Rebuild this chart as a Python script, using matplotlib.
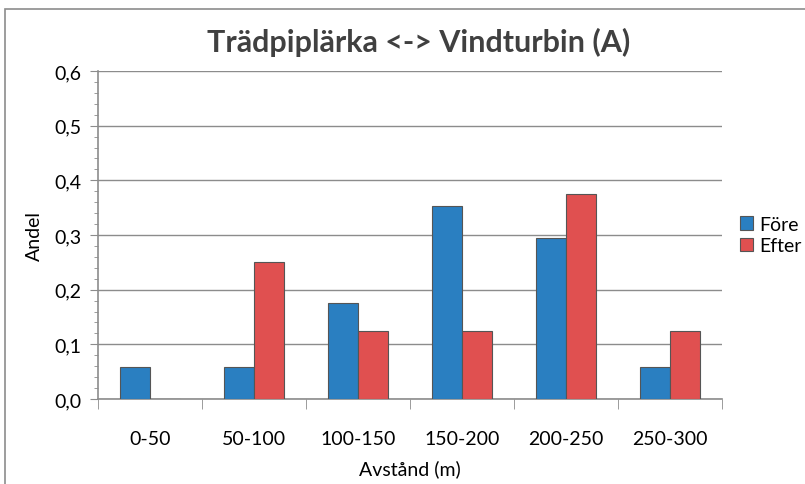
import matplotlib.pyplot as plt
import numpy as np
from matplotlib.patches import Rectangle
from matplotlib.ticker import FuncFormatter, MultipleLocator
# ------------------------------ #

categories = ['0-50', '50-100', '100-150', '150-200', '200-250', '250-300']
fore = [0.0588, 0.0588, 0.1765, 0.3529, 0.2941, 0.0588]
efter = [0.0, 0.25, 0.125, 0.125, 0.375, 0.125]
yTicks = [0.0, 0.1, 0.2, 0.3, 0.4, 0.5, 0.6]
# ------------------------------ #

plt.rcParams['font.family'] = ['Lato', 'DejaVu Sans']

fig = plt.figure(figsize = (8.05, 4.85), dpi = 100)
ax = fig.add_axes([0.1217, 0.1753, 0.7753, 0.6762])

# outer chart border
fig.patches.append(Rectangle((5 / 805, -0.05), 1.1, 1.05 - 10 / 485, transform = fig.transFigure,
	fill = False, edgecolor = '#8c8c8c', linewidth = 1.2))

x = np.arange(len(categories))
w = 1 / 3.5
ax.bar(x - w / 2, fore, width = w, color = '#2a7fc1', edgecolor = '#555555', linewidth = 0.8, label = 'Före', zorder = 3)
ax.bar(x + w / 2, efter, width = w, color = '#e05050', edgecolor = '#555555', linewidth = 0.8, label = 'Efter', zorder = 3)

ax.set_xlim(-0.5, len(categories) - 0.5)
ax.set_ylim(0, 0.6)
ax.set_yticks(yTicks)
ax.yaxis.set_minor_locator(MultipleLocator(0.02))
ax.yaxis.set_major_formatter(FuncFormatter(lambda v, p: f'{v:.1f}'.replace('.', ',')))
ax.grid(axis = 'y', color = '#8c8c8c', linewidth = 1, zorder = 0)

ax.set_xticks(x)
ax.set_xticklabels(categories)
ax.set_xticks(np.arange(len(categories) + 1) - 0.5, minor = True)
ax.tick_params(axis = 'x', which = 'major', length = 0, pad = 22, labelsize = 14)
ax.tick_params(axis = 'x', which = 'minor', length = 7, color = '#8c8c8c', direction = 'out')
ax.tick_params(axis = 'y', which = 'major', length = 6, color = '#8c8c8c', labelsize = 14, pad = 6)
ax.tick_params(axis = 'y', which = 'minor', length = 3, color = '#8c8c8c')

for side in ['top', 'right']:
	ax.spines[side].set_visible(False)
for side in ['left', 'bottom']:
	ax.spines[side].set_color('#8c8c8c')
	ax.spines[side].set_linewidth(1.2)

ax.set_xlabel('Avstånd (m)', fontsize = 14, labelpad = 9)
ax.set_ylabel('Andel', fontsize = 14, labelpad = 8)
fig.text(0.52, 0.913, 'Trädpiplärka <-> Vindturbin (A)', ha = 'center', va = 'center',
	fontsize = 22, fontweight = 'bold', color = '#404040')

ax.legend(loc = 'center left', bbox_to_anchor = (1.0, 0.5), frameon = False, fontsize = 14,
	handlelength = 0.7, handleheight = 0.7, handletextpad = 0.3, labelspacing = 0.25)

plt.savefig('out.png', dpi = 100)
# ------------------------------ #
